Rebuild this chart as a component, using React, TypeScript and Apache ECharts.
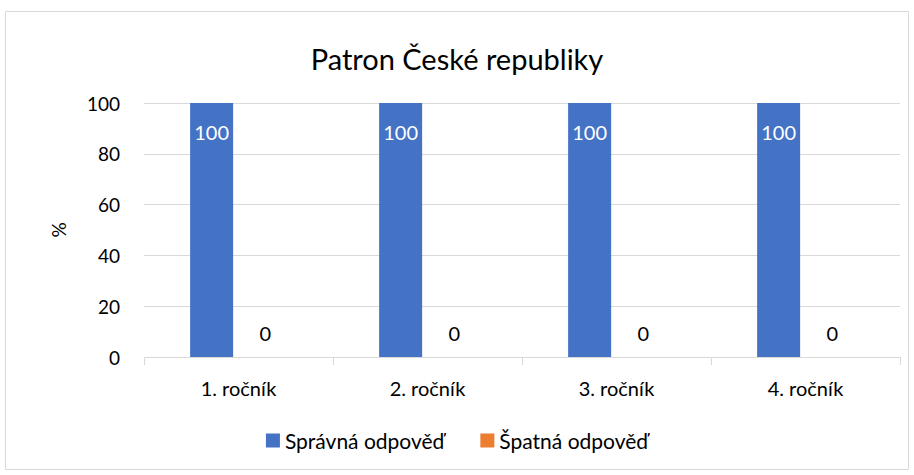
import React, { useEffect, useRef } from "react";
import * as echarts from "echarts";

const categories = ["1. ročník", "2. ročník", "3. ročník", "4. ročník"];
const correct = [100, 100, 100, 100];
const wrong = [0, 0, 0, 0];
const seriesNames = ["Správná odpověď", "Špatná odpověď"];
const titleText = "Patron České republiky";

const FONT = "Lato, 'Open Sans', sans-serif";

export default function App() {
  const ref = useRef<HTMLDivElement>(null);
  useEffect(() => {
    if (!ref.current) return;
    const chart = echarts.init(ref.current, undefined, { renderer: "svg" });
    chart.setOption({
      animation: false,
      backgroundColor: "#ffffff",
      textStyle: { fontFamily: FONT },
      title: {
        text: titleText,
        left: "center",
        top: 39,
        textStyle: { fontFamily: FONT, fontSize: 29, fontWeight: "normal", color: "#000000" },
      },
      graphic: [
        {
          type: "rect",
          shape: { x: 5.5, y: 11.5, width: 903, height: 458 },
          style: { fill: "none", stroke: "#d9d9d9", lineWidth: 1 },
          silent: true,
        },
      ],
      legend: {
        bottom: 19,
        left: "center",
        itemWidth: 14,
        itemHeight: 14,
        itemGap: 36,
        icon: "rect",
        textStyle: { fontFamily: FONT, fontSize: 21, color: "#000000" },
        data: seriesNames,
      },
      grid: { left: 144, right: 14, top: 103, bottom: 118 },
      xAxis: {
        type: "category",
        data: categories,
        axisLine: { lineStyle: { color: "#d9d9d9" } },
        axisTick: { show: true, length: 8, lineStyle: { color: "#d9d9d9" } },
        axisLabel: { fontFamily: FONT, fontSize: 20, color: "#000000", margin: 21 },
      },
      yAxis: {
        type: "value",
        min: 0,
        max: 100,
        interval: 20,
        name: "%",
        nameLocation: "middle",
        nameGap: 76,
        nameRotate: 90,
        nameTextStyle: { fontFamily: FONT, fontSize: 19, color: "#000000" },
        axisLine: { show: false },
        axisTick: { show: false },
        splitLine: { lineStyle: { color: "#d9d9d9" } },
        axisLabel: { fontFamily: FONT, fontSize: 19, color: "#000000", margin: 24 },
      },
      series: [
        {
          name: seriesNames[0],
          type: "bar",
          data: correct,
          barWidth: 43,
          barGap: "25%",
          itemStyle: { color: "#4472c4" },
          label: {
            show: true,
            position: "insideTop",
            distance: 19,
            color: "#ffffff",
            fontFamily: FONT,
            fontSize: 20,
          },
        },
        {
          name: seriesNames[1],
          type: "bar",
          data: wrong,
          barWidth: 43,
          barGap: "25%",
          itemStyle: { color: "#ed7d31" },
          label: {
            show: true,
            position: "top",
            distance: 14,
            color: "#000000",
            fontFamily: FONT,
            fontSize: 20,
          },
        },
      ],
    });
    return () => chart.dispose();
  }, []);
  return (
    <div
      ref={ref}
      style={{ position: "fixed", left: 0, top: 0, width: 914, height: 475 }}
    />
  );
}
